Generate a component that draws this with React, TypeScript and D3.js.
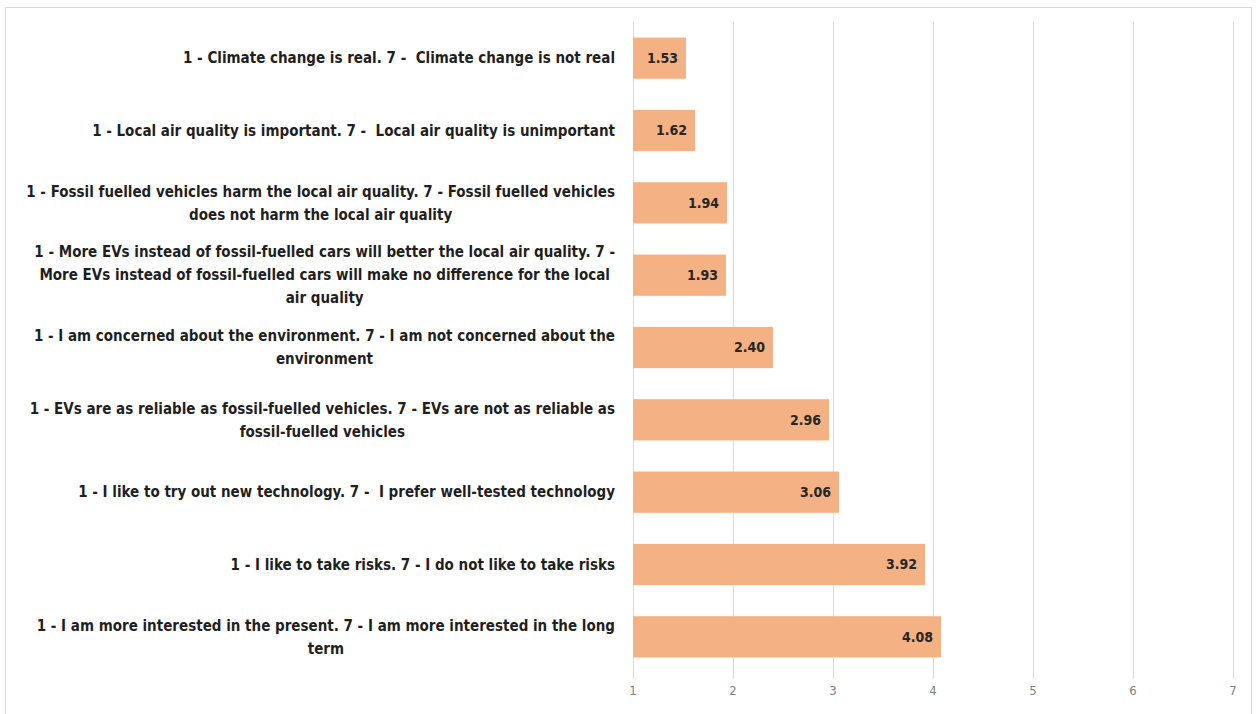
import React, { useEffect, useRef } from "react";
import * as d3 from "d3";

const categories: string[][] = [
  ["1 - Climate change is real. 7 -  Climate change is not real"],
  ["1 - Local air quality is important. 7 -  Local air quality is unimportant"],
  ["1 - Fossil fuelled vehicles harm the local air quality. 7 - Fossil fuelled vehicles", "does not harm the local air quality"],
  ["1 - More EVs instead of fossil-fuelled cars will better the local air quality. 7 -", "More EVs instead of fossil-fuelled cars will make no difference for the local", "air quality"],
  ["1 - I am concerned about the environment. 7 - I am not concerned about the", "environment"],
  ["1 - EVs are as reliable as fossil-fuelled vehicles. 7 - EVs are not as reliable as", "fossil-fuelled vehicles"],
  ["1 - I like to try out new technology. 7 -  I prefer well-tested technology"],
  ["1 - I like to take risks. 7 - I do not like to take risks"],
  ["1 - I am more interested in the present. 7 - I am more interested in the long", "term"],
];
const values: number[] = [1.53, 1.62, 1.94, 1.93, 2.4, 2.96, 3.06, 3.92, 4.08];
const ticks: number[] = [1, 2, 3, 4, 5, 6, 7];

const W = 1257;
const H = 714;
const FONT = "'Liberation Sans Narrow', 'DejaVu Sans Condensed', Carlito, sans-serif";

export default function App() {
  const ref = useRef<SVGSVGElement>(null);

  useEffect(() => {
    const svg = d3.select(ref.current);
    svg.selectAll("*").remove();

    const x = d3.scaleLinear().domain([1, 7]).range([633, 1233]);
    const idx = categories.map((_, i) => String(i));
    const y = d3.scaleBand<string>().domain(idx).range([22, 673]).paddingInner(0.43).paddingOuter(0.215);

    // outer border
    svg.append("rect")
      .attr("x", 5.5).attr("y", 7.5).attr("width", 1246).attr("height", 720)
      .attr("fill", "#fff").attr("stroke", "#d9d9d9").attr("stroke-width", 1);

    // gridlines
    svg.append("g").selectAll("line").data(ticks).join("line")
      .attr("x1", (d) => Math.round(x(d)) + 0.5).attr("x2", (d) => Math.round(x(d)) + 0.5)
      .attr("y1", 22).attr("y2", 679)
      .attr("stroke", "#d9d9d9").attr("stroke-width", 1);

    // tick labels
    svg.append("g").selectAll("text").data(ticks).join("text")
      .attr("x", (d) => x(d)).attr("y", 695)
      .attr("text-anchor", "middle")
      .attr("font-family", FONT).attr("font-size", 13).attr("fill", "#7f7f7f")
      .text((d) => String(d));

    // bars
    svg.append("g").selectAll("rect").data(values).join("rect")
      .attr("x", x(1)).attr("y", (_, i) => y(String(i))!)
      .attr("width", (d) => x(d) - x(1)).attr("height", y.bandwidth())
      .attr("fill", "#F4B183");

    // value labels
    svg.append("g").selectAll("text").data(values).join("text")
      .attr("x", (d) => x(d) - 8).attr("y", (_, i) => y(String(i))! + y.bandwidth() / 2)
      .attr("dy", "0.35em").attr("text-anchor", "end")
      .attr("font-family", FONT).attr("font-size", 14).attr("font-weight", "bold").attr("fill", "#262626")
      .text((d) => d.toFixed(2));

    // category labels
    const lh = 23;
    const right = 615;
    const lg = svg.append("g");
    categories.forEach((lines, i) => {
      const cy = y(String(i))! + y.bandwidth() / 2;
      const g = lg.append("g");
      const texts = lines.map((ln, j) =>
        g.append("text")
          .attr("y", cy + (j - (lines.length - 1) / 2) * lh)
          .attr("dy", "0.35em")
          .attr("text-anchor", "middle")
          .attr("font-family", FONT).attr("font-size", 15).attr("font-weight", "bold")
          .attr("fill", "#1f1f1f")
          .style("white-space", "pre")
          .text(ln)
      );
      const widths = texts.map((t) => (t.node() as SVGTextElement).getComputedTextLength());
      const maxW = d3.max(widths) || 0;
      texts.forEach((t) => t.attr("x", right - maxW / 2));
    });
  }, []);

  return (
    <svg ref={ref} width={W} height={H} style={{ position: "absolute", left: 0, top: 0, background: "#fff" }} />
  );
}
